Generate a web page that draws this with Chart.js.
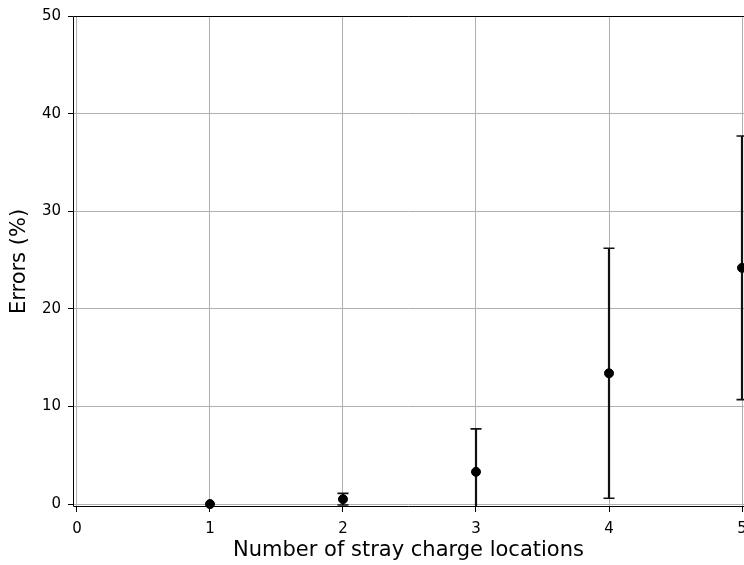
<!DOCTYPE html>
<html>
<head>
<meta charset="utf-8">
<script src="https://cdn.jsdelivr.net/npm/chart.js@4"></script>
<style>
  html, body { margin: 0; padding: 0; background: #fff; }
</style>
</head>
<body>
<canvas id="errChart" width="744" height="565"></canvas>
<script>
// data
const locations = [1, 2, 3, 4, 5];
const errorMeans = [0, 0.5, 3.3, 13.4, 24.2];
const errorLow = [0, -0.1, -1.1, 0.6, 10.7];
const errorHigh = [0, 1.1, 7.7, 26.2, 37.7];
const xTicks = [0, 1, 2, 3, 4, 5];
const yTicks = [0, 10, 20, 30, 40, 50];

// vertical error bars with caps, clipped to the plot area
const errorBars = {
    id: "errorBars",
    beforeDatasetsDraw(chart) {
        const { ctx, chartArea: a, scales: { x, y } } = chart;
        ctx.save();
        ctx.beginPath();
        ctx.rect(a.left, a.top, a.right - a.left, a.bottom - a.top);
        ctx.clip();
        ctx.strokeStyle = "#111";
        locations.forEach((loc, i) => {
            if (errorHigh[i] === errorLow[i]) return;
            const px = Math.round(x.getPixelForValue(loc));
            const top = y.getPixelForValue(errorHigh[i]);
            const bot = y.getPixelForValue(errorLow[i]);
            ctx.lineWidth = 2.2;
            ctx.beginPath();
            ctx.moveTo(px, top);
            ctx.lineTo(px, bot);
            ctx.stroke();
            ctx.lineWidth = 1.6;
            ctx.beginPath();
            ctx.moveTo(px - 5.5, top); ctx.lineTo(px + 5.5, top);
            ctx.moveTo(px - 5.5, bot); ctx.lineTo(px + 5.5, bot);
            ctx.stroke();
        });
        ctx.restore();
    }
};

// left, top and bottom spines (the right one falls outside the crop)
const frame = {
    id: "frame",
    afterDatasetsDraw(chart) {
        const { ctx, chartArea: a } = chart;
        ctx.save();
        ctx.strokeStyle = "#000";
        ctx.lineWidth = 1;
        ctx.beginPath();
        ctx.moveTo(a.right, a.top + 0.5);
        ctx.lineTo(a.left + 0.5, a.top + 0.5);
        ctx.lineTo(a.left + 0.5, a.bottom - 0.5);
        ctx.lineTo(a.right, a.bottom - 0.5);
        ctx.stroke();
        ctx.restore();
    }
};

const tickFont = { family: "DejaVu Sans", size: 15 };
const titleFont = { family: "DejaVu Sans", size: 21 };

new Chart(document.getElementById("errChart").getContext("2d"), {
    type: "scatter",
    data: {
        datasets: [{
            data: locations.map((loc, i) => ({ x: loc, y: errorMeans[i] })),
            backgroundColor: "#000",
            borderColor: "#000",
            pointRadius: 4.5,
            pointHoverRadius: 4.5,
            clip: false
        }]
    },
    options: {
        responsive: false,
        animation: false,
        layout: { autoPadding: false, padding: { top: 13, right: 0, bottom: 0, left: 0 } },
        plugins: { legend: { display: false }, tooltip: { enabled: false } },
        scales: {
            x: {
                type: "linear",
                min: -0.03,
                max: 5.015,
                afterBuildTicks: s => { s.ticks = xTicks.map(v => ({ value: v })); },
                afterFit: s => { s.height = 58; s.paddingLeft = 0; s.paddingRight = 0; },
                grid: { color: "#b0b0b0", lineWidth: 1, tickColor: "#000", tickLength: 5 },
                border: { display: false },
                ticks: { font: tickFont, color: "#000", padding: 8, maxRotation: 0 },
                title: {
                    display: true,
                    text: "Number of stray charge locations",
                    font: titleFont,
                    color: "#000",
                    padding: { top: 0, bottom: 2 }
                }
            },
            y: {
                min: -0.3,
                max: 50,
                afterBuildTicks: s => { s.ticks = yTicks.map(v => ({ value: v })); },
                afterFit: s => { s.width = 73; },
                grid: { color: "#b0b0b0", lineWidth: 1, tickColor: "#000", tickLength: 5 },
                border: { display: false },
                ticks: { font: tickFont, color: "#000", padding: 7 },
                title: {
                    display: true,
                    text: "Errors (%)",
                    font: titleFont,
                    color: "#000",
                    padding: { top: 7, bottom: 0 }
                }
            }
        }
    },
    plugins: [errorBars, frame]
});
</script>
</body>
</html>
